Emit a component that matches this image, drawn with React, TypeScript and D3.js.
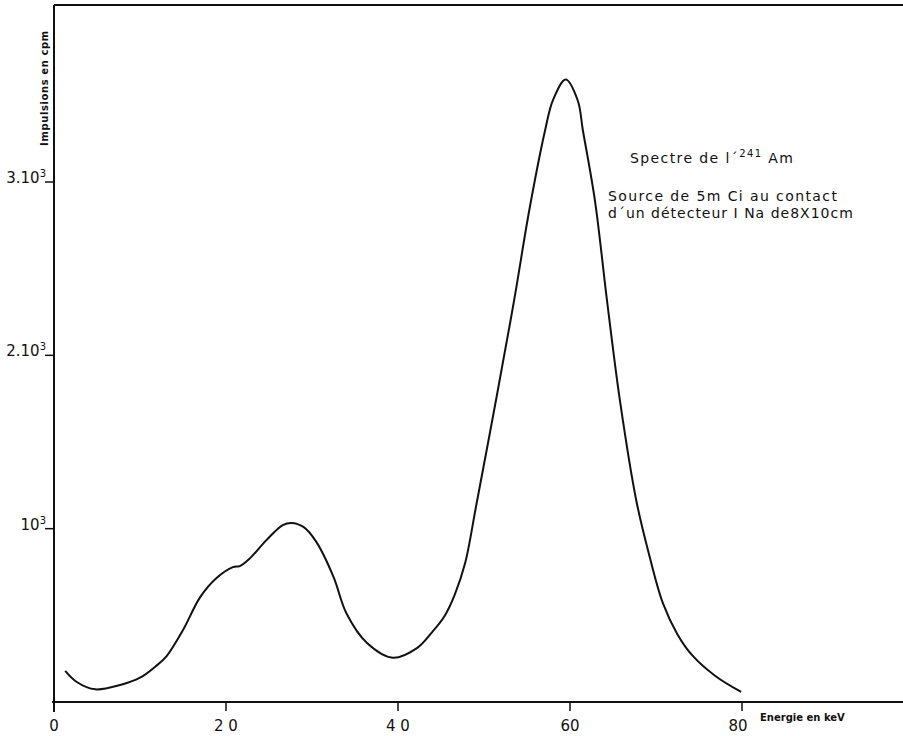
import React from "react";
import * as d3 from "d3";

// spectrum (keV, cpm)
const energy = [1.3, 2.6, 4.8, 7.7, 10, 11.8, 13.1, 15, 17, 18.9, 20.8, 21.6, 22.8, 24.7, 26.6, 27.6, 29, 30.5, 32.5, 34, 36.4, 39.4, 42.2, 44, 45.4, 46.6, 47.8, 49.1, 51.5, 53.5, 55.3, 57.1, 58, 59.5, 60.9, 61.5, 62.9, 64.3, 65.8, 67.7, 69.2, 70.8, 72.5, 74.2, 76.9, 79.9];
const counts = [179, 117, 73, 98, 140, 205, 265, 415, 605, 715, 778, 784, 830, 934, 1020, 1033, 1010, 924, 722, 512, 340, 255, 311, 405, 495, 620, 800, 1135, 1770, 2317, 2847, 3297, 3470, 3591, 3470, 3297, 2893, 2317, 1741, 1164, 850, 570, 390, 270, 150, 58];

const xTicks = [0, 20, 40, 60, 80];
const xTickLabels = ["0", "2 0", "4 0", "60", "80"];
const yTicks = [1000, 2000, 3000];
const yTickBase = ["10", "2.10", "3.10"];

const W = 903;
const H = 736;

export default function App() {
  const x = d3.scaleLinear().domain([0, 80]).range([54, 742]);
  const y = d3.scaleLinear().domain([0, 3000]).range([702, 182]);

  const pts: [number, number][] = energy.map((e, i) => [e, counts[i]]);
  const line = d3
    .line<[number, number]>()
    .x(d => x(d[0]))
    .y(d => y(d[1]))
    .curve(d3.curveCatmullRom.alpha(0.5));

  const font = "'DejaVu Sans', Arial, sans-serif";

  return (
    <svg width={W} height={H} style={{ position: "absolute", left: 0, top: 0, background: "#fff" }} fontFamily={font}>
      {/* frame */}
      <line x1={x(0)} y1={5} x2={W} y2={5} stroke="#111" strokeWidth={2} />
      <line x1={x(0)} y1={5} x2={x(0)} y2={712} stroke="#111" strokeWidth={2} />
      <line x1={x(0) - 2} y1={y(0)} x2={W} y2={y(0)} stroke="#111" strokeWidth={2} />

      {/* x ticks */}
      {xTicks.map((t, i) => (
        <g key={t}>
          <line x1={x(t)} x2={x(t)} y1={y(0)} y2={y(0) + 9} stroke="#111" strokeWidth={1.5} />
          <text x={x(t) - (t === 80 ? 4 : 0)} y={731} fontSize={15} textAnchor="middle" fill="#111">
            {xTickLabels[i]}
          </text>
        </g>
      ))}

      {/* y ticks */}
      {yTicks.map((t, i) => (
        <g key={t}>
          <line x1={x(0) - 9} x2={x(0)} y1={y(t)} y2={y(t)} stroke="#111" strokeWidth={1.5} />
          <text x={x(0) - 8} y={y(t) + 1} fontSize={15} textAnchor="end" fill="#111">
            {yTickBase[i]}
            <tspan dy={-6} fontSize={10}>3</tspan>
          </text>
        </g>
      ))}

      {/* axis titles */}
      <text
        transform={`translate(48,88) rotate(-90)`}
        fontSize={10}
        fontWeight="bold"
        letterSpacing={0.6}
        textAnchor="middle"
        fill="#111"
      >
        Impulsions en cpm
      </text>
      <text x={760} y={721} fontSize={10} fontWeight="bold" fill="#111">
        Energie en keV
      </text>

      {/* spectrum */}
      <path d={line(pts) ?? ""} fill="none" stroke="#111" strokeWidth={2} />

      {/* annotations */}
      <text x={630} y={163} fontSize={14} letterSpacing={1.4} fill="#111">
        Spectre de l´<tspan dy={-6} fontSize={10}>241</tspan>
        <tspan dy={6}> Am</tspan>
      </text>
      <text x={608} y={201} fontSize={14} letterSpacing={1.4} fill="#111">
        Source de 5m Ci au contact
      </text>
      <text x={608} y={218} fontSize={14} letterSpacing={1} fill="#111">
        d´un  détecteur I Na de8X10cm
      </text>
    </svg>
  );
}
